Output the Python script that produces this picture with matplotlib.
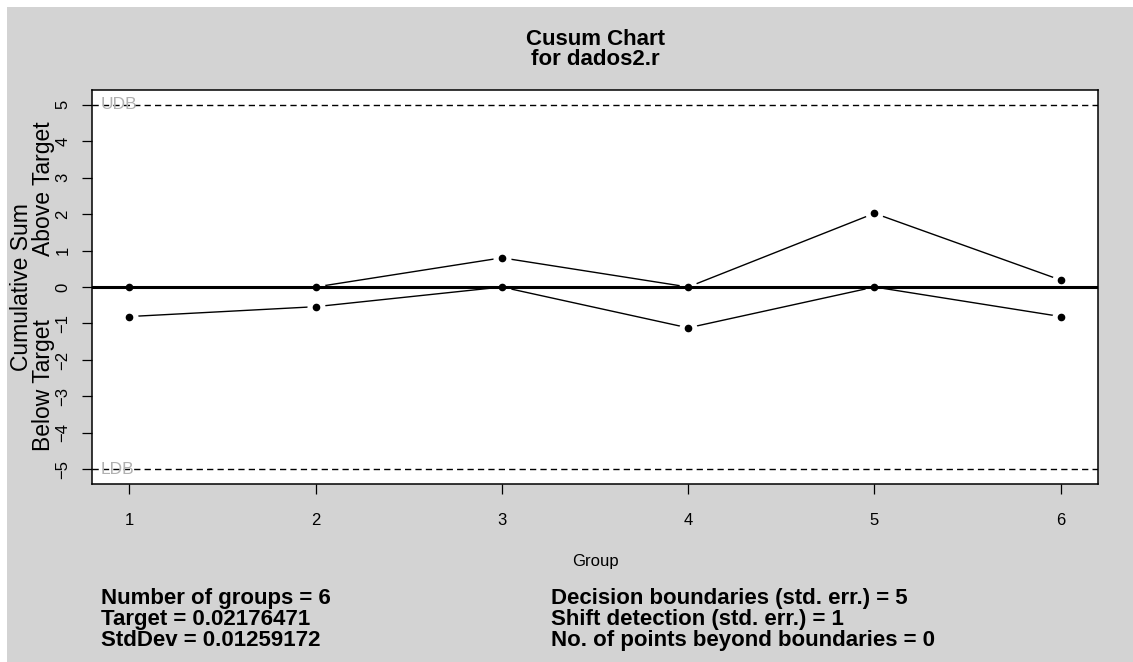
import matplotlib
matplotlib.use("Agg")
import matplotlib.pyplot as plt
import matplotlib.transforms as mtransforms
from matplotlib.patches import Rectangle

plt.rcParams['font.family'] = ['Liberation Sans', 'DejaVu Sans']

# data
groups = [1, 2, 3, 4, 5, 6]
cusum_above = [0.0, 0.0, 0.8, 0.0, 2.02, 0.19]
cusum_below = [-0.81, -0.54, 0.0, -1.12, 0.0, -0.81]
center = 0
udb = 5
ldb = -5

title = "Cusum Chart\nfor dados2.r"
stats_left = ["Number of groups = 6", "Target = 0.02176471", "StdDev = 0.01259172"]
stats_right = ["Decision boundaries (std. err.) = 5",
               "Shift detection (std. err.) = 1",
               "No. of points beyond boundaries = 0"]

W, H = 1133, 662
fig = plt.figure(figsize=(W / 100, H / 100), dpi=100, facecolor='white')
fig.patches.append(Rectangle((7 / W, 0), 1 - 7 / W, 1 - 7 / H, transform=fig.transFigure,
                             facecolor='#d3d3d3', edgecolor='none', zorder=-10))

def fx(x):
    return x / W

def fy(y):
    return 1 - y / H

ax = fig.add_axes([fx(92), fy(484), (1098 - 92) / W, (484 - 90) / H])
ax.set_facecolor('white')
ax.set_xlim(0.8, 6.2)
ax.set_ylim(-5.4, 5.4)

ax.plot(groups, cusum_above, color='black', lw=1.0, zorder=2)
ax.plot(groups, cusum_below, color='black', lw=1.0, zorder=2)
# white halos so the lines stop short of the points (R type="b")
ax.plot(groups, cusum_above, ls='none', marker='o', ms=13, mfc='white', mec='none', zorder=3)
ax.plot(groups, cusum_below, ls='none', marker='o', ms=13, mfc='white', mec='none', zorder=3)

ax.axhline(center, color='black', lw=2.2, zorder=4)
ax.axhline(udb, color='black', lw=1.0, dashes=(4.5, 3), zorder=4)
ax.axhline(ldb, color='black', lw=1.0, dashes=(4.5, 3), zorder=4)

ax.plot(groups, cusum_above, ls='none', marker='o', ms=4.5, color='black', zorder=5)
ax.plot(groups, cusum_below, ls='none', marker='o', ms=4.5, color='black', zorder=5)

tb = mtransforms.blended_transform_factory(ax.transAxes, ax.transData)
ax.text(0.009, udb, "UDB", transform=tb, color='#b0b0b0', fontsize=12.5, ha='left', va='center', zorder=6)
ax.text(0.009, ldb, "LDB", transform=tb, color='#b0b0b0', fontsize=12.5, ha='left', va='center', zorder=6)

for s in ax.spines.values():
    s.set_linewidth(1.1)
ax.set_xticks(groups)
ax.set_yticks(range(-5, 6))
ax.tick_params(direction='out', length=7, width=0.9, labelsize=12)
ax.tick_params(axis='x', pad=14)
ax.tick_params(axis='y', pad=8.5)
for lab in ax.get_yticklabels():
    lab.set_rotation(90)
    lab.set_va('center')

# title (baseline of the last line)
fig.text(fx(595), fy(65), title, fontsize=16, fontweight='bold', ha='center', va='baseline',
         linespacing=0.92)

# axis labels
fig.text(fx(595), fy(566), "Group", fontsize=12, ha='center', va='baseline')
ty = mtransforms.blended_transform_factory(fig.transFigure, ax.transData)
fig.text(fx(28.3), 0, "Cumulative Sum", transform=ty, fontsize=16.5, rotation=90,
         rotation_mode='anchor', ha='center', va='baseline')
fig.text(fx(49.8), 2.7, "Above Target", transform=ty, fontsize=16.5, rotation=90,
         rotation_mode='anchor', ha='center', va='baseline')
fig.text(fx(49.8), -2.7, "Below Target", transform=ty, fontsize=16.5, rotation=90,
         rotation_mode='anchor', ha='center', va='baseline')

# statistics (baseline of the last line)
fig.text(fx(101), fy(646), "\n".join(stats_left), fontsize=16, fontweight='bold',
         ha='left', va='baseline', linespacing=1.0)
fig.text(fx(551), fy(646), "\n".join(stats_right), fontsize=16, fontweight='bold',
         ha='left', va='baseline', linespacing=1.0)

fig.savefig("out.png", dpi=100, facecolor=fig.get_facecolor())
